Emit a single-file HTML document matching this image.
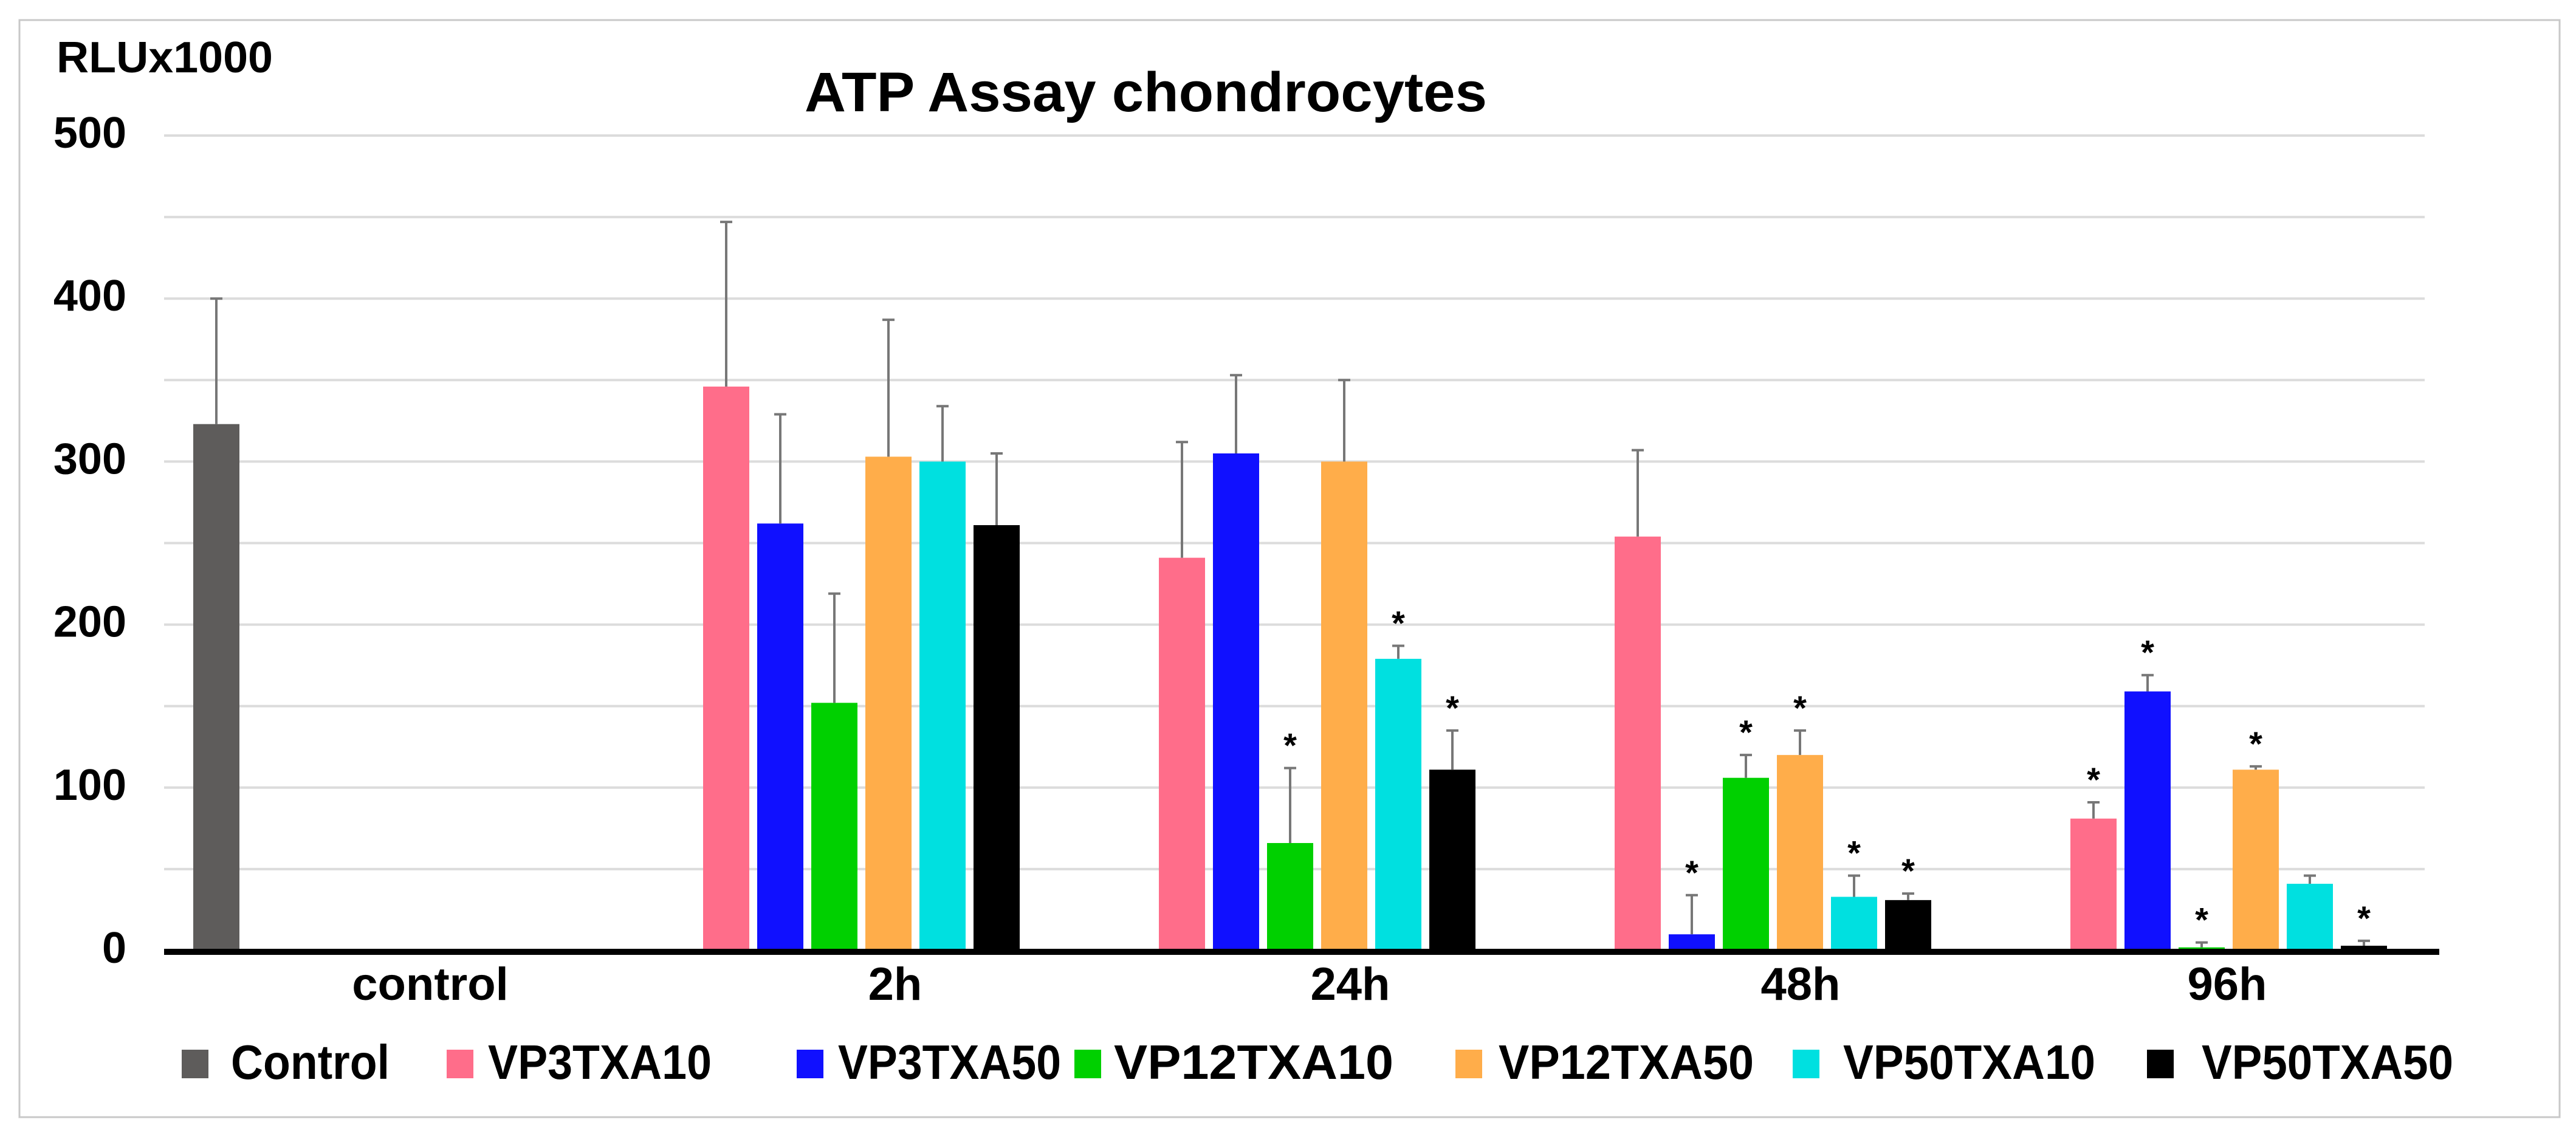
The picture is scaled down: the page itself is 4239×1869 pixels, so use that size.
<!DOCTYPE html>
<html><head><meta charset="utf-8"><style>
html,body{margin:0;padding:0;background:#fff;}
svg{display:block;font-family:"Liberation Sans",Arial,sans-serif;font-weight:bold;}
</style></head><body>
<svg id="chart" width="4239" height="1869" viewBox="0 0 4239 1869" xmlns="http://www.w3.org/2000/svg">
<rect x="32" y="33" width="4180" height="1805" fill="#fff" stroke="#c8c8c8" stroke-width="3"/>
<g id="grid"></g>
<g id="yticks"></g>
<text x="93" y="119" font-size="72" textLength="356" lengthAdjust="spacingAndGlyphs">RLUx1000</text>
<text x="1324" y="183" font-size="92" textLength="1123" lengthAdjust="spacingAndGlyphs">ATP Assay chondrocytes</text>
<g id="bars"></g>
<line x1="270" y1="1566" x2="4014" y2="1566" stroke="#000" stroke-width="10"/>
<g id="xlabels"></g>
<g id="legend"></g>
</svg>
<script>
const categories = ["control","2h","24h","48h","96h"];
const seriesNames = ["Control","VP3TXA10","VP3TXA50","VP12TXA10","VP12TXA50","VP50TXA10","VP50TXA50"];
const seriesColors = ["#5e5c5b","#ff6d8a","#1010ff","#00d000","#ffad4a","#00e0e0","#000000"];
const controlValues = [323, null, null, null, null];
const controlErr = [400, null, null, null, null];
const vp3txa10 = [null, 346, 241, 254, 81];
const vp3txa10Err = [null, 447, 312, 307, 91];
const vp3txa50 = [null, 262, 305, 10, 159];
const vp3txa50Err = [null, 329, 353, 34, 169];
const vp12txa10 = [null, 152, 66, 106, 2];
const vp12txa10Err = [null, 219, 112, 120, 5];
const vp12txa50 = [null, 303, 300, 120, 111];
const vp12txa50Err = [null, 387, 350, 135, 113];
const vp50txa10 = [null, 300, 179, 33, 41];
const vp50txa10Err = [null, 334, 187, 46, 46];
const vp50txa50 = [null, 261, 111, 31, 3];
const vp50txa50Err = [null, 305, 135, 35, 6];
const stars1 = [false,false,false,false,true];
const stars2 = [false,false,false,true,true];
const stars3 = [false,false,true,true,true];
const stars4 = [false,false,false,true,true];
const stars5 = [false,false,true,true,false];
const stars6 = [false,false,true,true,true];
const yTicks = [0,100,200,300,400,500];
const gridValues = [50,100,150,200,250,300,350,400,450,500];

const series = [controlValues,vp3txa10,vp3txa50,vp12txa10,vp12txa50,vp50txa10,vp50txa50];
const errs = [controlErr,vp3txa10Err,vp3txa50Err,vp12txa10Err,vp12txa50Err,vp50txa10Err,vp50txa50Err];
const stars = [[false,false,false,false,false],stars1,stars2,stars3,stars4,stars5,stars6];

const NS="http://www.w3.org/2000/svg";
const y0=1564, pxPer=2.682;
function yScale(v){return y0 - v*pxPer;}
function xSlot(ci,si){return 318 + ci*750 + si*89;}
const BW=76;
function mk(tag,attrs,parent){const e=document.createElementNS(NS,tag);for(const k in attrs)e.setAttribute(k,attrs[k]);parent.appendChild(e);return e;}

const grid=document.getElementById('grid');
gridValues.forEach(v=>{
  const l=mk('line',{x1:270,x2:3990,y1:yScale(v),y2:yScale(v),stroke:'#dcdcdc','stroke-width':4},grid);
  
  
});
const yt=document.getElementById('yticks');
yTicks.forEach(v=>{
  const t=mk('text',{x:208,y:yScale(v)+20,'font-size':72,'text-anchor':'end'},yt);
  t.textContent=v;
  
  
});
const bars=document.getElementById('bars');
series.forEach((vals,si)=>{
  vals.forEach((v,ci)=>{
    if(v===null)return;
    const x=xSlot(ci,si);
    const r=mk('rect',{x:x,y:yScale(v),width:BW,height:y0-yScale(v),fill:seriesColors[si]},bars);
    
    
    const e=errs[si][ci];
    const cx=x+BW/2;
    const eb=mk('path',{d:`M${cx},${yScale(v)} V${yScale(e)} M${cx-10},${yScale(e)} H${cx+10}`,stroke:'#777','stroke-width':4,fill:'none'},bars);
    
    
    if(stars[si][ci]){
      const s=mk('text',{x:cx,y:yScale(e)-18,'font-size':56,'text-anchor':'middle'},bars);
      s.textContent='*';
      
      
    }
  });
});
const xl=document.getElementById('xlabels');
const labelX=[708,1473,2222,2963,3665];
categories.forEach((c,i)=>{
  const t=mk('text',{x:labelX[i],y:1645,'font-size':76,'text-anchor':'middle'},xl);
  t.textContent=c;
  
  
});
const lg=document.getElementById('legend');
const swX=[299,735,1311,1768,2395,2950,3533];
const txX=[380,803,1379,1833,2466,3033,3623];
const txW=[261,368,367,460,420,415,414];
seriesNames.forEach((n,i)=>{
  const r=mk('rect',{x:swX[i],y:1727,width:44,height:47,fill:seriesColors[i]},lg);
  
  
  const t=mk('text',{x:txX[i],y:1775,'font-size':80,textLength:txW[i],lengthAdjust:'spacingAndGlyphs'},lg);
  t.textContent=n;
  
  
});
</script>
</body></html>
